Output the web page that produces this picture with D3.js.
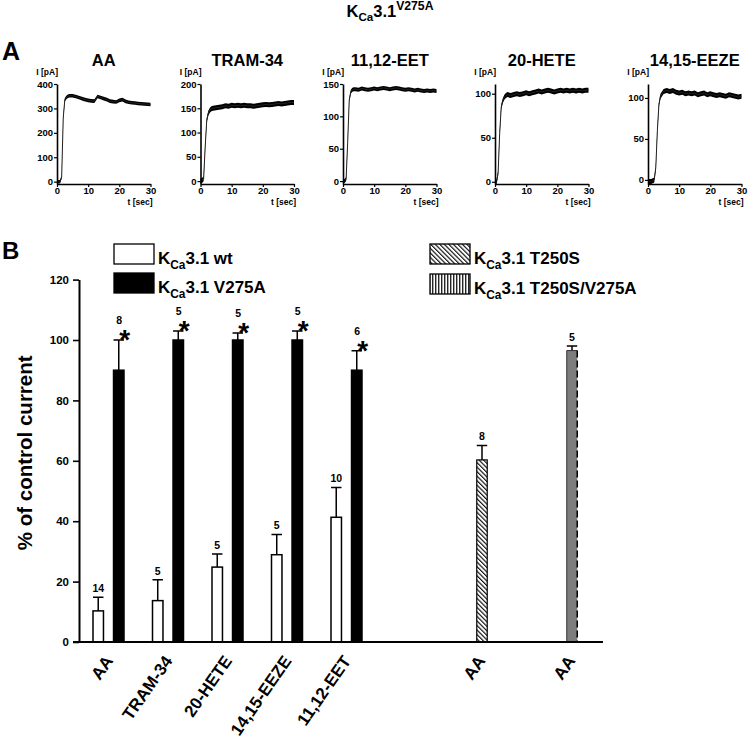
<!DOCTYPE html>
<html>
<head>
<meta charset="utf-8">
<script src="https://cdn.jsdelivr.net/npm/d3@7"></script>
<style>
	body { margin: 0; background: #fff; }
	svg text { font-family: "Liberation Sans", Arial, sans-serif; font-weight: bold; fill: #000; }
</style>
</head>
<body>
<div id="fig"></div>
<script>
// ---- panel A: current traces (0.5 s then 1 s steps)
const traceTimes = [0,0.5,1,1.5,2,2.5,3,3.5,4,5,6,7,8,9,10,11,12,13,14,15,16,17,18,19,20,21,22,23,24,25,26,27,28,29,30];
const traceAA   = [0,0,0,20,260,335,345,350,352, 352,349,345,340,336,333,331,330,349,345,340,336,330,328,326,333,336,329,325,323,322,320,319,318,317,316];
const traceTRAM = [0,1,5,70,125,140,146,149,150, 151,152,153,155,154,156,155,156,155,156,155,155,154,155,156,157,158,157,158,159,160,159,160,161,162,162];
const traceEET  = [0,0,3,60,125,138,141,142,142, 141,143,142,141,142,143,142,143,144,143,142,143,144,143,142,141,142,141,140,141,140,139,140,139,140,139];
const traceHETE = [0,0,10,55,85,92,96,98,99, 98,99,100,99,100,101,100,101,102,103,102,103,104,103,102,103,104,103,104,103,104,103,104,103,104,104];
const traceEEZE = [-2,-2,-2,-1,0,15,60,92,102, 108,109,108,109,107,106,107,105,106,105,106,104,105,106,104,105,104,103,104,103,102,104,103,102,101,102];

const traceTitles = ["AA", "TRAM-34", "11,12-EET", "20-HETE", "14,15-EEZE"];
const traceYTicks = [[0,100,200,300,400], [0,50,100,150,200], [0,50,100,150], [0,50,100], [0,50,100]];
const traceYMax = [400, 200, 150, 111, 117];
const traceYMin = [-9.5, -6, -4.5, -2.5, -5];
const timeTicks = [0, 10, 20, 30];

// ---- panel B: % of control current
const groupLabels = ["AA", "TRAM-34", "20-HETE", "14,15-EEZE", "11,12-EET"];
const wtMean = [10.3, 13.7, 24.8, 28.9, 41.3];
const wtSem  = [4.5, 6.9, 4.3, 6.7, 9.9];
const wtN    = [14, 5, 5, 5, 10];
const v275aMean = [90, 100, 100, 100, 90];
const v275aSem  = [10, 3, 2.3, 3, 6.4];
const v275aN    = [8, 5, 5, 5, 6];
const mutKeys   = ["T250S", "T250S/V275A"];
const mutLabels = ["AA", "AA"];
const mutMean = [60.3, 96.5];
const mutSem  = [4.8, 1.5];
const mutN    = [8, 5];
const barYTicks = [0, 20, 40, 60, 80, 100, 120];

const traces = [traceAA, traceTRAM, traceEET, traceHETE, traceEEZE];

const svg = d3.select("#fig").append("svg")
	.attr("width", 750)
	.attr("height", 744);

// patterns for the hatched legend boxes / bar
const defs = svg.append("defs");
defs.append("pattern")
	.attr("id", "diag")
	.attr("patternUnits", "userSpaceOnUse")
	.attr("width", 3.2).attr("height", 3.2)
	.attr("patternTransform", "rotate(-45)")
	.call(p => {
		p.append("rect").attr("width", 3.2).attr("height", 3.2).attr("fill", "#fff");
		p.append("line").attr("x1", 0.6).attr("x2", 0.6).attr("y1", 0).attr("y2", 3.2)
			.attr("stroke", "#000").attr("stroke-width", 1.1);
	});
defs.append("pattern")
	.attr("id", "vert")
	.attr("patternUnits", "userSpaceOnUse")
	.attr("width", 3).attr("height", 3)
	.call(p => {
		p.append("rect").attr("width", 3).attr("height", 3).attr("fill", "#fff");
		p.append("line").attr("x1", 0.75).attr("x2", 0.75).attr("y1", 0).attr("y2", 3)
			.attr("stroke", "#000").attr("stroke-width", 1.2);
	});

// K_Ca label helper (subscript Ca, optional superscript)
function kca(sel, size, rest, sup) {
	sel.append("tspan").style("font-size", size + "px").text("K");
	sel.append("tspan").style("font-size", (size * 0.7) + "px").attr("dy", size * 0.27).text("Ca");
	sel.append("tspan").style("font-size", size + "px").attr("dy", -size * 0.27).text(rest);
	if (sup) sel.append("tspan").style("font-size", (size * 0.74) + "px").attr("dy", -size * 0.4).text(sup);
}

// figure title
svg.append("text")
	.attr("x", 390).attr("y", 17)
	.attr("text-anchor", "middle")
	.call(kca, 16.5, "3.1", "V275A");

// panel letters
svg.append("text").attr("x", 2).attr("y", 60).style("font-size", "25px").text("A");
svg.append("text").attr("x", 2).attr("y", 259).style("font-size", "24px").text("B");

// ================= Panel A =================
const traceLeft = [57, 200.5, 343, 495, 648];
const traceW = 93.5;
const traceTop = 84, traceBottom = 184;
const bandPx = [3.6, 5, 4, 5, 5];

traces.forEach(function(vals, i) {
	let x = d3.scaleLinear().domain([0, 30]).range([traceLeft[i], traceLeft[i] + traceW]);
	let y = d3.scaleLinear().domain([traceYMin[i], traceYMax[i]]).range([traceBottom, traceTop]);
	let g = svg.append("g");
	let pts = traceTimes.map((t, k) => [t, vals[k]]);

	// noise band + thin trace
	g.append("path")
		.datum(pts)
		.attr("fill", "#000")
		.attr("d", d3.area()
			.x(d => x(d[0]))
			.y0(d => y(d[1]) + bandPx[i] / 2)
			.y1(d => y(d[1]) - bandPx[i] / 2));
	g.append("path")
		.datum(pts)
		.attr("fill", "none")
		.attr("stroke", "#222")
		.attr("stroke-width", 1)
		.attr("d", d3.line().x(d => x(d[0])).y(d => y(d[1])));

	let yAx = g.append("g")
		.attr("transform", `translate(${traceLeft[i]},0)`)
		.call(d3.axisLeft(y).tickValues(traceYTicks[i]).tickSize(3).tickSizeOuter(0).tickPadding(1));
	let xAx = g.append("g")
		.attr("transform", `translate(0,${traceBottom})`)
		.call(d3.axisBottom(x).tickValues(timeTicks).tickSize(3).tickSizeOuter(0).tickPadding(0));
	[yAx, xAx].forEach(a => {
		a.select(".domain").attr("stroke-width", 1.6);
		a.selectAll(".tick line").attr("stroke-width", 1.2);
		a.selectAll("text").style("font-size", "9.5px").style("font-family", null);
	});

	g.append("text")
		.attr("x", traceLeft[i] + traceW / 2).attr("y", 66)
		.attr("text-anchor", "middle")
		.style("font-size", "16.5px")
		.text(traceTitles[i]);
	g.append("text")
		.attr("x", traceLeft[i] + 1).attr("y", 75)
		.attr("text-anchor", "end")
		.style("font-size", "8.5px")
		.text("I [pA]");
	g.append("text")
		.attr("x", traceLeft[i] + traceW + 2).attr("y", 205)
		.attr("text-anchor", "end")
		.style("font-size", "8.5px")
		.text("t [sec]");
});

// ================= Panel B =================
const yB = d3.scaleLinear().domain([0, 120]).range([642, 279.6]);
const xGroup = d3.scaleBand().domain(groupLabels).range([79, 376.5]);
const xSub = d3.scaleBand().domain(["wt", "V275A"]).range([14, 45]).paddingInner(0.49);
const xMut = d3.scalePoint().domain(mutKeys).range([482, 572]);
const barW = xSub.bandwidth();

const gB = svg.append("g");

// y axis
let yAxB = gB.append("g")
	.attr("transform", "translate(79,0)")
	.call(d3.axisLeft(yB).tickValues(barYTicks).tickSize(6).tickSizeOuter(0).tickPadding(4));
yAxB.select(".domain").attr("stroke-width", 2);
yAxB.selectAll(".tick line").attr("stroke-width", 1.6);
yAxB.selectAll("text").style("font-size", "11.5px").style("font-family", null);

gB.append("text")
	.attr("transform", `translate(32,${(yB(0) + yB(120)) / 2 - 8}) rotate(-90)`)
	.attr("text-anchor", "middle")
	.style("font-size", "20.5px")
	.text("% of control current");

// bars for wt and V275A
const pairs = [];
groupLabels.forEach((g, i) => {
	pairs.push({ g: g, s: "wt", m: wtMean[i], e: wtSem[i], n: wtN[i], fill: "#fff", star: false });
	pairs.push({ g: g, s: "V275A", m: v275aMean[i], e: v275aSem[i], n: v275aN[i], fill: "#000", star: true });
});
pairs.forEach(d => { d.x = xGroup(d.g) + xSub(d.s); });

const mut = mutKeys.map((k, i) => ({ k: k, m: mutMean[i], e: mutSem[i], n: mutN[i], x: xMut(k) - barW / 2 }));

const allBars = pairs.concat(mut);

// error bars (upper only)
gB.selectAll(".err")
	.data(allBars)
	.join("path")
	.attr("class", "err")
	.attr("fill", "none")
	.attr("stroke", "#000")
	.attr("stroke-width", 1.5)
	.attr("d", d => {
		let cx = d.x + barW / 2, top = yB(d.m + d.e);
		return `M${cx},${yB(d.m)}V${top}M${cx - barW / 2},${top}H${cx + barW / 2}`;
	});

gB.selectAll(".bar")
	.data(pairs)
	.join("rect")
	.attr("class", "bar")
	.attr("x", d => d.x)
	.attr("y", d => yB(d.m))
	.attr("width", barW)
	.attr("height", d => yB(0) - yB(d.m))
	.attr("fill", d => d.fill)
	.attr("stroke", "#000")
	.attr("stroke-width", 1.5);

// T250S hatched bar
gB.append("rect")
	.attr("x", mut[0].x).attr("y", yB(mut[0].m))
	.attr("width", barW).attr("height", yB(0) - yB(mut[0].m))
	.attr("fill", "url(#diag)")
	.attr("stroke", "#000").attr("stroke-width", 1.2);

// T250S/V275A bar (prints grey with a dashed right edge)
gB.append("rect")
	.attr("x", mut[1].x).attr("y", yB(mut[1].m))
	.attr("width", barW).attr("height", yB(0) - yB(mut[1].m))
	.attr("fill", "#7d7d7d");
gB.append("path")
	.attr("fill", "none").attr("stroke", "#333").attr("stroke-width", 1)
	.attr("d", `M${mut[1].x},${yB(0)}V${yB(mut[1].m)}H${mut[1].x + barW}`);
gB.append("line")
	.attr("x1", mut[1].x + barW).attr("x2", mut[1].x + barW)
	.attr("y1", yB(mut[1].m)).attr("y2", yB(0))
	.attr("stroke", "#000").attr("stroke-width", 1.5)
	.attr("stroke-dasharray", "7,3");

// n labels and significance stars
gB.selectAll(".nlab")
	.data(allBars)
	.join("text")
	.attr("class", "nlab")
	.attr("x", d => d.x + barW / 2 + (d.star ? 0.5 : 0))
	.attr("y", d => yB(d.m + d.e) - (d.star ? 16 : 5))
	.attr("text-anchor", "middle")
	.style("font-size", "10.5px")
	.text(d => d.n);
gB.selectAll(".star")
	.data(pairs.filter(d => d.star))
	.join("text")
	.attr("class", "star")
	.attr("x", d => d.x + barW / 2 + 6)
	.attr("y", d => yB(d.m + d.e) + 9)
	.attr("text-anchor", "middle")
	.style("font-size", "28px")
	.text("*");

// x axis
gB.append("line")
	.attr("x1", 73).attr("x2", xMut(mutKeys[1]) + 31)
	.attr("y1", yB(0)).attr("y2", yB(0))
	.attr("stroke", "#000").attr("stroke-width", 2);

// x labels
gB.selectAll(".xlab")
	.data(groupLabels)
	.join("text")
	.attr("class", "xlab")
	.attr("transform", d => `translate(${xGroup(d) + xGroup.bandwidth() / 2 + 5},661) rotate(-55)`)
	.attr("text-anchor", "end")
	.style("font-size", "17px")
	.text(d => d);
gB.selectAll(".mlab")
	.data(mutKeys)
	.join("text")
	.attr("class", "mlab")
	.attr("transform", d => `translate(${xMut(d) + 4},661) rotate(-55)`)
	.attr("text-anchor", "end")
	.style("font-size", "17px")
	.text((d, i) => mutLabels[i]);

// legend
const legend = [
	{ x: 114, y: 244, fill: "#fff", rest: "3.1 wt" },
	{ x: 114, y: 273, fill: "#000", rest: "3.1 V275A" },
	{ x: 430, y: 244, fill: "url(#diag)", rest: "3.1 T250S" },
	{ x: 430, y: 274, fill: "url(#vert)", rest: "3.1 T250S/V275A" }
];
legend.forEach(l => {
	gB.append("rect")
		.attr("x", l.x).attr("y", l.y)
		.attr("width", 40).attr("height", 20)
		.attr("fill", l.fill)
		.attr("stroke", "#000").attr("stroke-width", 1.3);
	gB.append("text")
		.attr("x", l.x + 44).attr("y", l.y + 20)
		.call(kca, 17, l.rest);
});
</script>
</body>
</html>
